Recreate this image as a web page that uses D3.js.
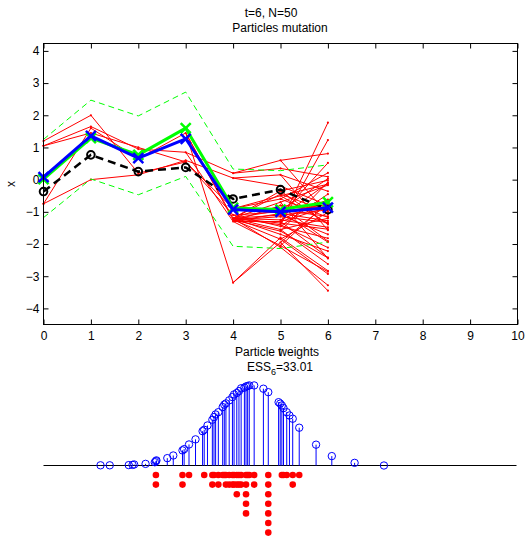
<!DOCTYPE html>
<html>
<head>
<meta charset="utf-8">
<script src="https://cdn.jsdelivr.net/npm/d3@7"></script>
<style>
  body { margin: 0; background: #fff; }
  text { font-family: "Liberation Sans", Arial, Helvetica, sans-serif; font-size: 12px; fill: #000; }
</style>
</head>
<body>
<div id="vis"></div>
<script>
// ---- data ----
const times = [0, 1, 2, 3, 4, 5, 6];
const xTicks = [0, 1, 2, 3, 4, 5, 6, 7, 8, 9, 10];
const yTicks = [-4, -3, -2, -1, 0, 1, 2, 3, 4];

const trueState    = [0.08, 1.36, 0.67, 1.27, -0.93, -1.0, -0.87];
const filterMean   = [0.02, 1.29, 0.77, 1.6, -0.88, -0.93, -0.7];
const upperBand    = [1.25, 2.47, 1.98, 2.72, 0.33, 0.28, 0.46];
const lowerBand    = [-1.18, 0.02, -0.47, 0.1, -2.07, -2.14, -1.94];
const observations = [-0.37, 0.77, 0.25, 0.38, -0.6, -0.31, -0.93];

// particle genealogy: shared paths t=0..3, then branching nodes at t=4, t=5
const earlyPaths = [
  [1.05, 1.65, 0.95, 0.85],
  [-0.75, 0.0, 0.15, 0.6],
  [1.2, 2.0, 0.2, 0.55],
  [-0.75, 1.6, 0.65, 1.45],
  [1.05, 1.45, 1.0, 0.55]
];
const t4Parent = [3, 3, 0, 1, 0, 2, 4, 3];
const t4Value  = [-1.2, -3.2, 0.2, 0.05, -1.3, -0.9, -1.1, -1.25];
const t5Parent = [0, 0, 0, 0, 0, 0, 0, 1, 2, 3, 4, 4, 5, 6, 7, 4, 0, 6, 7, 5, 7, 0,
                  3, 2, 1, 0, 0, 4];
const t5Value  = [-0.7, -0.95, -1.1, -1.25, -1.4, -1.55, -1.7, -1.95, 0.6, 0.15, -0.8,
                  -1.3, -0.5, -1.0, -1.85, -2.05, -0.35, -1.45, -1.15, -0.6, -1.6, -1.35,
                  -0.2, 0.35, -1.8, -2.1, -0.45, -1.05];

// particles at t=6 (mutated), their t=5 parent, weights and offspring counts
const particleX = [-3.45, -3.28, -2.93, -2.86, -2.83, -2.62, -2.45, -2.43, -2.42, -2.22,
                   -2.11, -1.94, -1.91, -1.82, -1.70, -1.57, -1.54, -1.48, -1.39, -1.36,
                   -1.33, -1.28, -1.20, -1.17, -1.14, -1.08, -1.02, -0.99, -0.94, -0.90,
                   -0.86, -0.80, -0.77, -0.74, -0.71, -0.62, -0.45, -0.36, -0.17, -0.14,
                   -0.11, -0.08, -0.02, 0.03, 0.09, 0.21, 0.52, 0.81, 1.23, 1.77];
const t6Parent = [7, 25, 14, 15, 24, 5, 0, 20, 11, 6, 4, 13, 10, 17, 2, 9, 21, 3, 16, 12,
                  18, 27, 5, 19, 1, 8, 14, 26, 2, 10, 11, 22, 13, 7, 15, 3, 17, 9, 0, 12,
                  18, 20, 16, 1, 23, 19, 2, 8, 4, 21];
const weights = [0.0001, 0.0001, 0.0002, 0.0003, 0.0005, 0.0008, 0.0016, 0.0021, 0.0025, 0.0036,
                 0.0049, 0.0074, 0.0080, 0.0103, 0.0128, 0.0168, 0.0175, 0.0196, 0.0224, 0.0237,
                 0.0250, 0.0261, 0.0286, 0.0298, 0.0304, 0.0319, 0.0335, 0.0348, 0.0355, 0.0364,
                 0.0378, 0.0381, 0.0387, 0.0389, 0.0392, 0.0392, 0.0376, 0.0359, 0.0310, 0.0303,
                 0.0294, 0.0281, 0.0261, 0.0245, 0.0229, 0.0185, 0.0102, 0.0046, 0.0013, 0.0000];
const offspring = [0, 0, 0, 0, 0, 0, 0, 2, 0, 0,
                   0, 2, 0, 1, 0, 0, 1, 0, 2, 1,
                   0, 2, 1, 1, 2, 2, 2, 2, 3, 2,
                   2, 0, 5, 1, 1, 2, 0, 7, 0, 0,
                   1, 1, 1, 0, 2, 1, 0, 0, 0, 0];

// ---- layout ----
const W = 527, H = 537;
const pL = 43.5, pR = 517.5, pT = 43.5, pB = 324.5;

const svg = d3.select("#vis").append("svg")
  .attr("width", W).attr("height", H);

const x = d3.scaleLinear().domain([0, 10]).range([pL, pR]);
const y = d3.scaleLinear().domain([-4.5, 4.23]).range([pB, pT]);

// ---- top axes ----
const gTop = svg.append("g");

gTop.append("g")
  .attr("transform", `translate(0,${pB})`)
  .call(d3.axisBottom(x).tickValues(xTicks).tickFormat(d3.format("d"))
    .tickSizeInner(-5).tickSizeOuter(0).tickPadding(7))
  .call(g => g.select(".domain").remove());
gTop.append("g")
  .attr("transform", `translate(0,${pT})`)
  .call(d3.axisTop(x).tickValues(xTicks).tickFormat("")
    .tickSizeInner(-5).tickSizeOuter(0))
  .call(g => g.select(".domain").remove());
gTop.append("g")
  .attr("transform", `translate(${pL},0)`)
  .call(d3.axisLeft(y).tickValues(yTicks).tickFormat(d3.format("d"))
    .tickSizeInner(-5).tickSizeOuter(0).tickPadding(4))
  .call(g => g.select(".domain").remove());
gTop.append("g")
  .attr("transform", `translate(${pR},0)`)
  .call(d3.axisRight(y).tickValues(yTicks).tickFormat("")
    .tickSizeInner(-5).tickSizeOuter(0))
  .call(g => g.select(".domain").remove());
gTop.selectAll(".tick text").style("font-size", "12px")
  .style("font-family", "'Liberation Sans', Arial, sans-serif");
gTop.selectAll(".tick line").attr("stroke", "#000");

// red particle trajectories
const red = gTop.append("g").attr("fill", "none").attr("stroke", "#ff0000").attr("stroke-width", 1);
const seg = (t0, v0, t1, v1) => red.append("line")
  .attr("x1", x(t0)).attr("y1", y(v0)).attr("x2", x(t1)).attr("y2", y(v1));

const nodes = [];
earlyPaths.forEach(p => {
  red.append("path").attr("d", d3.line((d, i) => x(times[i]), d => y(d))(p));
  p.forEach((v, i) => nodes.push([times[i], v]));
});
t4Value.forEach((v, i) => { seg(3, earlyPaths[t4Parent[i]][3], 4, v); nodes.push([4, v]); });
t5Value.forEach((v, i) => { seg(4, t4Value[t5Parent[i]], 5, v); nodes.push([5, v]); });
particleX.forEach((v, i) => { seg(5, t5Value[t6Parent[i]], 6, v); nodes.push([6, v]); });

gTop.append("g").selectAll("circle").data(nodes).join("circle")
  .attr("cx", d => x(d[0])).attr("cy", d => y(d[1])).attr("r", 1.1)
  .attr("fill", "#ff0000");

const line = d3.line((d, i) => x(times[i]), d => y(d));

// +- band
[upperBand, lowerBand].forEach(b => gTop.append("path")
  .attr("d", line(b)).attr("fill", "none").attr("stroke", "#00ff00")
  .attr("stroke-width", 1).attr("stroke-dasharray", "6,4"));

// observations
gTop.append("path").attr("d", line(observations)).attr("fill", "none")
  .attr("stroke", "#000").attr("stroke-width", 2.5).attr("stroke-dasharray", "8,5");
gTop.append("g").selectAll("circle").data(observations).join("circle")
  .attr("cx", (d, i) => x(times[i])).attr("cy", d => y(d)).attr("r", 3.8)
  .attr("fill", "none").attr("stroke", "#000").attr("stroke-width", 2);

const crossLine = (data, color) => {
  gTop.append("path").attr("d", line(data)).attr("fill", "none")
    .attr("stroke", color).attr("stroke-width", 3).attr("stroke-linejoin", "round");
  gTop.append("g").selectAll("path").data(data).join("path")
    .attr("d", (d, i) => {
      const cx = x(times[i]), cy = y(d), s = 5;
      return `M${cx - s},${cy - s}L${cx + s},${cy + s}M${cx - s},${cy + s}L${cx + s},${cy - s}`;
    })
    .attr("stroke", color).attr("stroke-width", 2.5).attr("fill", "none");
};
crossLine(filterMean, "#00ff00");
crossLine(trueState, "#0000ff");

// frame
gTop.append("rect").attr("x", pL).attr("y", pT)
  .attr("width", pR - pL).attr("height", pB - pT)
  .attr("fill", "none").attr("stroke", "#000").attr("stroke-width", 1);

// titles and labels
svg.append("text").attr("x", 271).attr("y", 17).attr("text-anchor", "middle").text("t=6, N=50");
svg.append("text").attr("x", 280).attr("y", 31.5).attr("text-anchor", "middle").text("Particles mutation");
svg.append("text").attr("transform", "translate(15,184) rotate(-90)")
  .attr("text-anchor", "middle").text("x");
svg.append("text").attr("x", 280).attr("y", 356).attr("text-anchor", "middle").text("t");

// ---- bottom: particle weights ----
const xb = d3.scaleLinear().domain([-4.5, 4.23]).range([pL, pR]);
const yb = d3.scaleLinear().domain([0, 0.04]).range([465.5, 383.8]);

svg.append("text").attr("x", 277).attr("y", 356).attr("text-anchor", "middle").text("Particle weights");
const ess = svg.append("text").attr("x", 280).attr("y", 370.5).attr("text-anchor", "middle");
ess.append("tspan").text("ESS");
ess.append("tspan").attr("dy", 4).style("font-size", "9px").text("6");
ess.append("tspan").attr("dy", -4).text("=33.01");

const gBot = svg.append("g");
gBot.append("line").attr("x1", pL).attr("x2", pR - 1)
  .attr("y1", yb(0)).attr("y2", yb(0)).attr("stroke", "#000").attr("stroke-width", 1);

gBot.append("g").selectAll("line").data(particleX).join("line")
  .attr("x1", d => xb(d)).attr("x2", d => xb(d))
  .attr("y1", yb(0)).attr("y2", (d, i) => yb(weights[i]))
  .attr("stroke", "#0000ff").attr("stroke-width", 1);
gBot.append("g").selectAll("circle").data(particleX).join("circle")
  .attr("cx", d => xb(d)).attr("cy", (d, i) => yb(weights[i])).attr("r", 3.7)
  .attr("fill", "none").attr("stroke", "#0000ff").attr("stroke-width", 1);

// resampled particles, stacked by copies
const dots = [];
particleX.forEach((v, i) => d3.range(offspring[i]).forEach(k => dots.push([v, k])));
gBot.append("g").selectAll("circle").data(dots).join("circle")
  .attr("cx", d => xb(d[0])).attr("cy", d => 475 + d[1] * 9.6).attr("r", 3.3)
  .attr("fill", "#ff0000");
</script>
</body>
</html>
